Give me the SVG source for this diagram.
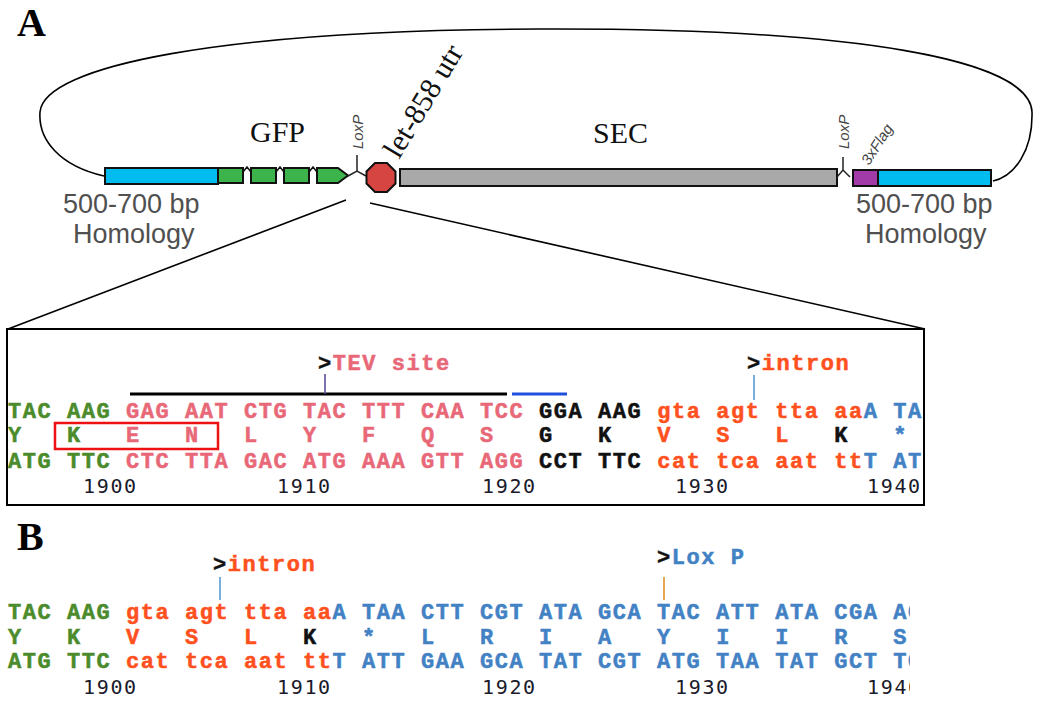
<svg xmlns="http://www.w3.org/2000/svg" width="1040" height="701" viewBox="0 0 1040 701">
  <style>
    .panel { font-family: "Liberation Serif", serif; font-weight: bold; font-size: 40px; fill: #000; }
    .gene { font-family: "Liberation Serif", serif; font-size: 30px; fill: #111; }
    .hom { font-family: "Liberation Sans", Arial, sans-serif; font-size: 27px; fill: #505050; }
    .tag { font-family: "Liberation Sans", Arial, sans-serif; font-style: italic; font-size: 15px; fill: #444; }
    .seq { font-family: "Liberation Mono", "Courier New", monospace; font-weight: bold; font-size: 22px; letter-spacing: 1.55px; stroke-width: 0.5px; }
    .num { font-family: "DejaVu Sans Mono", monospace; font-size: 20px; letter-spacing: 1.66px; fill: #1a1a2a; }
    .bar { stroke: #111; stroke-width: 2; }
    .g { fill: #4b8b2b; stroke: #4b8b2b; }
    .p { fill: #e86878; stroke: #e86878; }
    .k { fill: #111; stroke: #111; }
    .o { fill: #ff5020; stroke: #ff5020; }
    .b { fill: #4282c4; stroke: #4282c4; }
    .ln { fill: none; stroke: #000; stroke-width: 1.6; }
  </style>
  <defs>
    <clipPath id="clipA"><rect x="7" y="329" width="917" height="176"/></clipPath>
    <clipPath id="clipB"><rect x="0" y="520" width="910" height="181"/></clipPath>
  </defs>
  <rect width="1040" height="701" fill="#fff"/>

  <!-- panel letters -->
  <text class="panel" x="17" y="36">A</text>
  <text class="panel" x="17" y="550">B</text>

  <!-- plasmid backbone loop -->
  <g id="backbone">
    <path class="ln" d="M 104,176 C 60,166 38,140 40,112 C 44,66 220,30 540,29 C 860,28 1030,60 1032,112 C 1033,150 1015,176 993,181"/>
  </g>

  <!-- cassette elements -->
  <g id="homology-left">
    <rect class="bar" x="105" y="168" width="113" height="16" fill="#00bcef"/>
    <text class="hom" x="63" y="213">500-700 bp</text>
    <text class="hom" x="73" y="243">Homology</text>
  </g>
  <g id="gfp">
    <path d="M 243,172 L 247,167 L 251,172 M 276,172 L 280,167 L 284,172 M 309,172 L 313,167 L 317,172" fill="none" stroke="#111" stroke-width="1.5"/>
    <rect class="bar" x="218" y="168" width="25" height="15" fill="#3cb44b"/>
    <rect class="bar" x="251" y="168" width="25" height="15" fill="#3cb44b"/>
    <rect class="bar" x="284" y="168" width="25" height="15" fill="#3cb44b"/>
    <path class="bar" d="M 317,168 L 338,168 L 348,175.5 L 338,183 L 317,183 Z" fill="#3cb44b"/>
    <text class="gene" x="250" y="142">GFP</text>
  </g>
  <g id="loxp-left">
    <path d="M 357,155 L 357,171 M 348,176 L 357,171 L 366,176" fill="none" stroke="#222" stroke-width="1.5"/>
    <text class="tag" transform="translate(363,149) rotate(-90)">LoxP</text>
  </g>
  <g id="utr">
    <polygon class="bar" points="375,163 387,163 395.5,171.5 395.5,183.5 387,192 375,192 366.5,183.5 366.5,171.5" fill="#d64541"/>
    <text class="gene" font-size="33" transform="translate(399,160) rotate(-59)">let-858 utr</text>
  </g>
  <g id="sec">
    <rect class="bar" x="400" y="169" width="437" height="17" fill="#a9a9a9"/>
    <text class="gene" x="593" y="143">SEC</text>
  </g>
  <g id="loxp-right">
    <path d="M 843,157 L 843,170 M 837,177 L 843,170 L 850,177" fill="none" stroke="#222" stroke-width="1.5"/>
    <text class="tag" transform="translate(849,149) rotate(-90)">LoxP</text>
  </g>
  <g id="flag">
    <rect class="bar" x="853" y="170" width="25" height="16" fill="#a23aa8"/>
    <text class="tag" transform="translate(869,166) rotate(-57)">3xFlag</text>
  </g>
  <g id="homology-right">
    <rect class="bar" x="878" y="170" width="113" height="16" fill="#00bcef"/>
    <text class="hom" x="856" y="213">500-700 bp</text>
    <text class="hom" x="865" y="243">Homology</text>
  </g>

  <!-- zoom lines to the sequence box -->
  <g id="connectors">
    <line class="ln" x1="346" y1="200" x2="8" y2="329"/>
    <line class="ln" x1="370" y1="203" x2="925" y2="329"/>
  </g>

  <!-- sequence panel A -->
  <g id="seq-a">
    <rect x="7" y="329" width="917" height="176" fill="none" stroke="#000" stroke-width="2"/>
    <line x1="130" y1="394" x2="507" y2="394" stroke="#000" stroke-width="3"/>
    <line x1="512" y1="394" x2="567" y2="394" stroke="#2050e0" stroke-width="3"/>
    <text class="seq" x="318" y="370" xml:space="preserve"><tspan class="k">&gt;</tspan><tspan class="p">TEV site</tspan></text>
    <line x1="325" y1="374" x2="325" y2="394" stroke="#5a4f9a" stroke-width="1.6"/>
    <text class="seq" x="747" y="370" xml:space="preserve"><tspan class="k">&gt;</tspan><tspan class="o">intron</tspan></text>
    <line x1="754" y1="375" x2="754" y2="400" stroke="#6aa6d8" stroke-width="1.8"/>
    <g clip-path="url(#clipA)">
      <text class="seq" x="8" y="418" xml:space="preserve"><tspan class="g">TAC AAG </tspan><tspan class="p">GAG AAT CTG TAC TTT CAA TCC </tspan><tspan class="k">GGA AAG </tspan><tspan class="o">gta agt tta aa</tspan><tspan class="b">A TA</tspan></text>
      <text class="seq" x="8" y="442" xml:space="preserve"><tspan class="g">Y   K   </tspan><tspan class="p">E   N   L   Y   F   Q   S   </tspan><tspan class="k">G   K   </tspan><tspan class="o">V   S   L   </tspan><tspan class="k">K   </tspan><tspan class="b">*</tspan></text>
      <text class="seq" x="8" y="468" xml:space="preserve"><tspan class="g">ATG TTC </tspan><tspan class="p">CTC TTA GAC ATG AAA GTT AGG </tspan><tspan class="k">CCT TTC </tspan><tspan class="o">cat tca aat tt</tspan><tspan class="b">T AT</tspan></text>
      <text class="num" x="83" y="493">1900</text>
      <text class="num" x="277" y="493">1910</text>
      <text class="num" x="482" y="493">1920</text>
      <text class="num" x="675" y="493">1930</text>
      <text class="num" x="867" y="493">1940</text>
    </g>
    <rect x="55" y="423" width="163" height="26" fill="none" stroke="#ee1111" stroke-width="2.5"/>
  </g>

  <!-- sequence panel B -->
  <g id="seq-b">
    <text class="seq" x="213" y="571" xml:space="preserve"><tspan class="k">&gt;</tspan><tspan class="o">intron</tspan></text>
    <line x1="220" y1="577" x2="220" y2="600" stroke="#6aa6d8" stroke-width="1.8"/>
    <text class="seq" x="657" y="564" xml:space="preserve"><tspan class="k">&gt;</tspan><tspan class="b">Lox P</tspan></text>
    <line x1="664" y1="577" x2="664" y2="600" stroke="#e0a040" stroke-width="1.8"/>
    <g clip-path="url(#clipB)">
      <text class="seq" x="8" y="619" xml:space="preserve"><tspan class="g">TAC AAG </tspan><tspan class="o">gta agt tta aa</tspan><tspan class="b">A TAA CTT CGT ATA GCA TAC ATT ATA CGA AGC</tspan></text>
      <text class="seq" x="8" y="644" xml:space="preserve"><tspan class="g">Y   K   </tspan><tspan class="o">V   S   L   </tspan><tspan class="k">K   </tspan><tspan class="b">*   L   R   I   A   Y   I   I   R   S</tspan></text>
      <text class="seq" x="8" y="668" xml:space="preserve"><tspan class="g">ATG TTC </tspan><tspan class="o">cat tca aat tt</tspan><tspan class="b">T ATT GAA GCA TAT CGT ATG TAA TAT GCT TCG</tspan></text>
      <text class="num" x="83" y="694">1900</text>
      <text class="num" x="277" y="694">1910</text>
      <text class="num" x="482" y="694">1920</text>
      <text class="num" x="675" y="694">1930</text>
      <text class="num" x="867" y="694">1940</text>
    </g>
  </g>
</svg>
